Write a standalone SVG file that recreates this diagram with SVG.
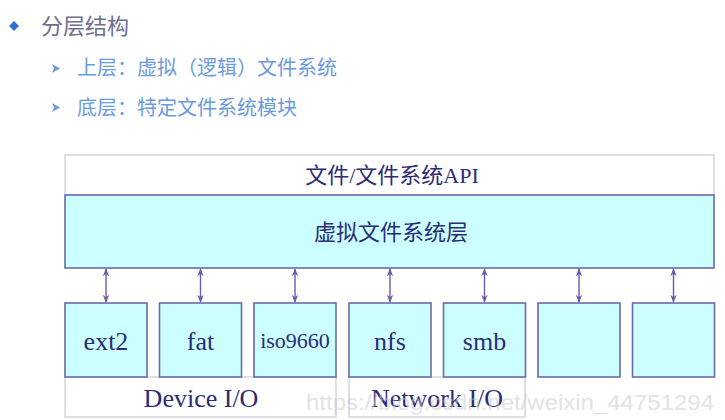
<svg xmlns="http://www.w3.org/2000/svg" width="725" height="420" viewBox="0 0 725 420">
<defs>
<style>
.bg{fill:#ffffff}
.title{font-family:"Noto Sans CJK SC","Noto Sans",sans-serif;font-size:22px;fill:#6e6e8e}
.sub{font-family:"Noto Sans CJK SC","Noto Sans",sans-serif;font-size:20px;fill:#6a9ae0}
.lbl{font-family:"Liberation Serif","Noto Sans CJK SC",serif;fill:#2b2b78;text-anchor:middle}
.box{fill:#ccffff;stroke:#6a6aae;stroke-width:1.6}
.light{fill:#ffffff;stroke:#d8d8e6;stroke-width:1.6}
.conn{stroke:#6a5aae;stroke-width:1.4;fill:none;marker-start:url(#ah);marker-end:url(#ah)}
.wm{font-family:"Liberation Sans",sans-serif;font-size:22px;fill:#c8c8c8;opacity:0.5}
</style>
<marker id="ah" viewBox="0 0 10 10" refX="9" refY="5" markerWidth="8" markerHeight="8" orient="auto-start-reverse" markerUnits="userSpaceOnUse">
<path d="M0,1 L10,5 L0,9 L3,5 Z" fill="#6a5aae"/>
</marker>
</defs>
<rect class="bg" x="0" y="0" width="725" height="420"/>
<g id="heading">
<path d="M14,21 L19,26 L14,31 L9,26 Z" fill="#2f6fd6"/>
<text class="title" x="41" y="34">分层结构</text>
<path d="M52,64 L60,68.5 L52,73 L54,68.5 Z" fill="#6a9ae0"/>
<text class="sub" x="77" y="75">上层：虚拟（逻辑）文件系统</text>
<path d="M52,103 L60,107.5 L52,112 L54,107.5 Z" fill="#6a9ae0"/>
<text class="sub" x="77" y="115">底层：特定文件系统模块</text>
</g>
<g id="api">
<rect class="light" x="65" y="155" width="649" height="40"/>
<text class="lbl" x="392" y="183" font-size="22">文件/文件系统API</text>
</g>
<g id="vfs">
<rect class="box" x="65" y="195" width="649" height="73"/>
<text class="lbl" x="391" y="240" font-size="22">虚拟文件系统层</text>
</g>
<g id="device-io">
<rect class="light" x="65" y="377" width="271" height="40"/>
<text class="lbl" x="201" y="407" font-size="26">Device I/O</text>
</g>
<g id="network-io">
<rect class="light" x="349" y="377" width="176" height="40"/>
<text class="lbl" x="437" y="407" font-size="26">Network I/O</text>
</g>
<g id="ext2">
<rect class="box" x="65" y="303" width="82" height="74"/>
<text class="lbl" x="106" y="350" font-size="26">ext2</text>
</g>
<g id="fat">
<rect class="box" x="159.5" y="303" width="82" height="74"/>
<text class="lbl" x="200.5" y="350" font-size="26">fat</text>
</g>
<g id="iso9660">
<rect class="box" x="254" y="303" width="82" height="74"/>
<text class="lbl" x="295" y="348" font-size="22">iso9660</text>
</g>
<g id="nfs">
<rect class="box" x="349" y="303" width="82" height="74"/>
<text class="lbl" x="390" y="350" font-size="26">nfs</text>
</g>
<g id="smb">
<rect class="box" x="443.5" y="303" width="82" height="74"/>
<text class="lbl" x="484.5" y="350" font-size="26">smb</text>
</g>
<g id="fs6">
<rect class="box" x="538" y="303" width="82" height="74"/>
</g>
<g id="fs7">
<rect class="box" x="632.5" y="303" width="82" height="74"/>
</g>
<g id="connectors">
<line class="conn" x1="106" y1="269" x2="106" y2="302"/>
<line class="conn" x1="200.5" y1="269" x2="200.5" y2="302"/>
<line class="conn" x1="295" y1="269" x2="295" y2="302"/>
<line class="conn" x1="390" y1="269" x2="390" y2="302"/>
<line class="conn" x1="484.5" y1="269" x2="484.5" y2="302"/>
<line class="conn" x1="579" y1="269" x2="579" y2="302"/>
<line class="conn" x1="673.5" y1="269" x2="673.5" y2="302"/>
</g>
<text class="wm" x="306" y="410" textLength="408" lengthAdjust="spacingAndGlyphs">https://blog.csdn.net/weixin_44751294</text>
</svg>
